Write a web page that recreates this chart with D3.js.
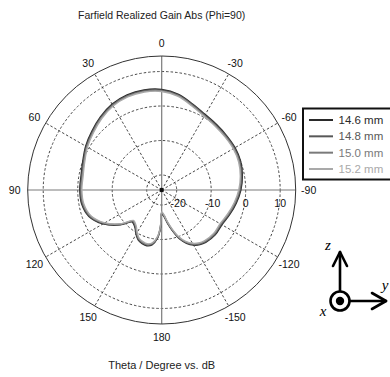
<!DOCTYPE html>
<html><head><meta charset="utf-8">
<script src="https://cdn.jsdelivr.net/npm/d3@7"></script>
<style>
html,body{margin:0;padding:0;background:#fff;overflow:hidden;}
svg{display:block;font-family:"Liberation Sans",Arial,sans-serif;}
</style></head>
<body>
<svg id="chart" width="390" height="377"></svg>
<script>
// ---- data ----
const title = "Farfield Realized Gain Abs (Phi=90)";
const xLabel = "Theta / Degree vs. dB";
const seriesNames = ["14.6 mm", "14.8 mm", "15.0 mm", "15.2 mm"];
const seriesColors = ["#2a2a2a", "#585858", "#7a7a7a", "#a9a9a9"];
const angleTicks = [0, 30, 60, 90, 120, 150, 180, -150, -120, -90, -60, -30];
const radialTicks = [-20, -10, 0, 10];
const theta = [-175,-170,-165,-160,-155,-150,-145,-140,-130,-120,-110,-100,-90,-80,-70,-60,-50,-40,-30,-20,-10,0,10,20,30,40,50,60,70,80,90,100,110,120,130,137,140,145,150,155,160,165,170,175,178,180];
const gain146 = [-16.6,-14.5,-12.0,-9.3,-7.3,-5.9,-5.0,-4.5,-4.1,-4.2,-3.4,-2.4,-1.4,-0.6,0.0,0.2,0.2,0.4,0.9,2.1,3.8,4.8,5.1,5.0,4.4,3.3,2.1,1.1,0.0,-0.6,-0.6,-0.8,-1.9,-4.7,-8.6,-11.7,-11.6,-10.9,-9.5,-8.3,-7.8,-7.6,-8.2,-10.3,-13.2,-17.4];
const gain148 = [-16.8,-14.7,-12.2,-9.5,-7.5,-6.1,-5.2,-4.7,-4.3,-4.4,-3.6,-2.6,-1.6,-0.8,-0.2,0.0,0.0,0.2,0.7,1.9,3.6,4.6,4.9,4.8,4.2,3.1,1.9,0.9,-0.2,-0.8,-0.8,-1.0,-2.1,-4.9,-8.8,-11.9,-11.8,-11.1,-9.7,-8.5,-8.0,-7.8,-8.4,-10.5,-13.4,-17.6];
const gain150 = [-17.0,-14.9,-12.4,-9.7,-7.7,-6.3,-5.4,-4.9,-4.5,-4.6,-3.8,-2.8,-1.8,-1.0,-0.4,-0.2,-0.2,0.0,0.5,1.7,3.4,4.4,4.7,4.6,4.0,2.9,1.7,0.7,-0.4,-1.0,-1.0,-1.2,-2.3,-5.1,-9.0,-12.1,-12.0,-11.3,-9.9,-8.7,-8.2,-8.0,-8.6,-10.7,-13.6,-17.8];
const gain152 = [-17.2,-15.1,-12.6,-9.9,-7.9,-6.5,-5.6,-5.1,-4.7,-4.8,-4.0,-3.0,-2.0,-1.2,-0.6,-0.4,-0.4,-0.2,0.3,1.5,3.2,4.2,4.5,4.4,3.8,2.7,1.5,0.5,-0.6,-1.2,-1.2,-1.4,-2.5,-5.3,-9.2,-12.3,-12.2,-11.5,-10.1,-8.9,-8.4,-8.2,-8.8,-10.9,-13.8,-18.0];
const gainMin = -24.35, gainMax = 14.5;

// ---- layout ----
const svg = d3.select("#chart");
const cx = 161.7, cy = 190, R = 134;
const r = d3.scaleLinear().domain([gainMin, gainMax]).range([0, R]);
const toRad = d => -d * Math.PI / 180; // theta CCW from top
const px = (deg, rad) => cx - rad * Math.sin(deg * Math.PI / 180);
const py = (deg, rad) => cy - rad * Math.cos(deg * Math.PI / 180);

svg.append("text").attr("x", cx).attr("y", 19).attr("text-anchor", "middle")
  .attr("font-size", 10.5).attr("fill", "#222").text(title);

const g = svg.append("g");
// dashed rings
g.selectAll("circle.ring").data(radialTicks).join("circle")
  .attr("cx", cx).attr("cy", cy).attr("r", d => r(d))
  .attr("fill", "none").attr("stroke", "#333").attr("stroke-width", 0.9)
  .attr("stroke-dasharray", "2.5,2");
// dashed spokes
const spokes = angleTicks.filter(a => a % 90 !== 0);
g.selectAll("line.spoke").data(spokes).join("line")
  .attr("x1", cx).attr("y1", cy)
  .attr("x2", d => px(d, R)).attr("y2", d => py(d, R))
  .attr("stroke", "#333").attr("stroke-width", 0.9).attr("stroke-dasharray", "2.5,2");
// solid axes
g.append("line").attr("x1", cx).attr("x2", cx).attr("y1", cy - R).attr("y2", cy + R)
  .attr("stroke", "#7a7a7a").attr("stroke-width", 1.2);
g.append("line").attr("x1", cx - R).attr("x2", cx + R).attr("y1", cy).attr("y2", cy)
  .attr("stroke", "#7a7a7a").attr("stroke-width", 1.2);
// outer circle
g.append("circle").attr("cx", cx).attr("cy", cy).attr("r", R)
  .attr("fill", "none").attr("stroke", "#333").attr("stroke-width", 1);
g.append("circle").attr("cx", cx).attr("cy", cy).attr("r", 2.2).attr("fill", "#111");

// angle labels
g.selectAll("text.ang").data(angleTicks).join("text")
  .attr("x", d => px(d, R + 13)).attr("y", d => py(d, R + 13))
  .attr("text-anchor", "middle").attr("dominant-baseline", "central")
  .attr("font-size", 10.5).attr("fill", "#111").text(d => d);
// radial labels
g.selectAll("text.rad").data(radialTicks).join("text")
  .attr("x", d => cx + r(d) + (d < 0 ? 1.5 : 0)).attr("y", cy + 13)
  .attr("text-anchor", "middle").attr("dominant-baseline", "central")
  .attr("font-size", 10.5).attr("fill", "#111").text(d => d);

// curves
const series = [gain146, gain148, gain150, gain152];
const line = d3.lineRadial().curve(d3.curveCatmullRomClosed.alpha(0.5))
  .angle(d => toRad(d[0])).radius(d => r(d[1]));
const cg = svg.append("g").attr("transform", `translate(${cx},${cy})`);
series.forEach((s, i) => {
  cg.append("path").datum(theta.map((t, j) => [t, s[j]]))
    .attr("d", line).attr("fill", "none")
    .attr("stroke", seriesColors[i]).attr("stroke-width", 1.4);
});

// legend
const lg = svg.append("g");
lg.append("rect").attr("x", 303).attr("y", 108.5).attr("width", 100).attr("height", 71)
  .attr("fill", "#fff").attr("stroke", "#111").attr("stroke-width", 2);
const ly = d3.scalePoint().domain(seriesNames).range([120, 169]);
seriesNames.forEach((n, i) => {
  lg.append("line").attr("x1", 309).attr("x2", 333).attr("y1", ly(n)).attr("y2", ly(n))
    .attr("stroke", seriesColors[i]).attr("stroke-width", 2);
  lg.append("text").attr("x", 338.5).attr("y", ly(n)).attr("dominant-baseline", "central")
    .attr("font-size", 11.5).attr("fill", seriesColors[i]).text(n);
});

// axis label
svg.append("text").attr("x", cx).attr("y", 369).attr("text-anchor", "middle")
  .attr("font-size", 11).attr("fill", "#222").text(xLabel);

// coordinate icon
const ic = svg.append("g").attr("stroke", "#000").attr("fill", "none")
  .attr("stroke-width", 2.6).attr("stroke-linecap", "round").attr("stroke-linejoin", "round");
const ox = 340, oy = 301;
ic.append("line").attr("x1", ox).attr("y1", oy - 10).attr("x2", ox).attr("y2", 252);
ic.append("path").attr("d", `M${ox - 7},266 L${ox},252 L${ox + 7},266`);
ic.append("line").attr("x1", ox + 10).attr("y1", oy).attr("x2", 386).attr("y2", oy);
ic.append("path").attr("d", `M372,${oy - 8} L386,${oy} L372,${oy + 8}`);
ic.append("circle").attr("cx", ox).attr("cy", oy).attr("r", 9.5);
svg.append("circle").attr("cx", ox).attr("cy", oy).attr("r", 4.2).attr("fill", "#000");
svg.append("text").attr("x", 328).attr("y", 250).attr("text-anchor", "middle")
  .attr("font-family", "'Liberation Serif',serif").attr("font-style", "italic")
  .attr("font-size", 15).text("z");
svg.append("text").attr("x", 323).attr("y", 316).attr("text-anchor", "middle")
  .attr("font-family", "'Liberation Serif',serif").attr("font-style", "italic")
  .attr("font-size", 15).text("x");
svg.append("text").attr("x", 385).attr("y", 290).attr("text-anchor", "middle")
  .attr("font-family", "'Liberation Serif',serif").attr("font-style", "italic")
  .attr("font-size", 15).text("y");
</script>
</body></html>
